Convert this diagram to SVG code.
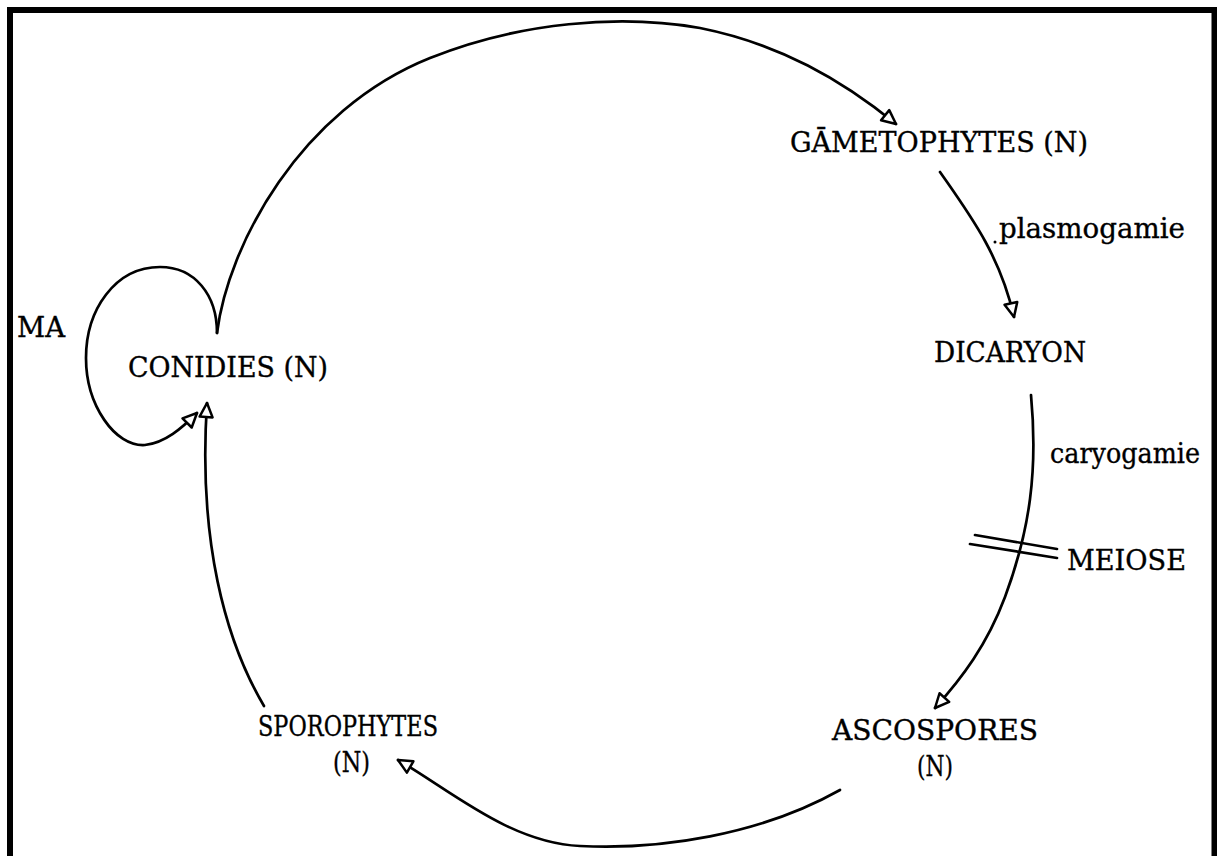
<svg xmlns="http://www.w3.org/2000/svg" width="1217" height="856" viewBox="0 0 1217 856">
  <style>
    .frame { fill: none; stroke: #000; stroke-width: 6; }
    .edge { fill: none; stroke: #000; stroke-width: 2.7; stroke-linecap: round; }
    .lbl { font-family: "DejaVu Serif", "Liberation Serif", serif; font-size: 27px; fill: #000; stroke: #000; stroke-width: 0.35; }
  </style>
  <defs>
    <marker id="tri" markerUnits="userSpaceOnUse" orient="auto" refX="15" refY="8" markerWidth="18" markerHeight="16" overflow="visible">
      <path d="M1,1.5 L15,8 L1,14.5 Z" fill="#fff" stroke="#000" stroke-width="2.5" stroke-linejoin="round"/>
    </marker>
  </defs>

  <rect width="1217" height="856" fill="#fff"/>
  <!-- open frame: left, top and right sides -->
  <path class="frame" d="M10,856 V10 H1214.5 V856"/>

  <g id="connectors">
    <!-- conidies to gametophytes, large arc over the top -->
    <path class="edge" marker-end="url(#tri)" d="M217,333 C228,245 300,110 430,58 C520,22 620,14 700,28 C780,44 842,80 896,124"/>
    <!-- asexual loop (MA) back onto conidies -->
    <path class="edge" marker-end="url(#tri)" d="M217,333 C217,295 195,267 160,267 C115,267 86,310 86,358 C86,405 115,447 145,445 C165,443 182,428 197,413"/>
    <!-- gametophytes to dicaryon -->
    <path class="edge" marker-end="url(#tri)" d="M940,172 C970,215 1000,255 1014,317"/>
    <!-- dicaryon to ascospores -->
    <path class="edge" marker-end="url(#tri)" d="M1031,395 C1038,470 1030,530 1005,597 C987,645 962,678 935,708"/>
    <!-- meiosis tick marks -->
    <path class="edge" d="M975,535 L1057,549 M970,544 L1057,558"/>
    <!-- ascospores to sporophytes, bottom arc -->
    <path class="edge" marker-end="url(#tri)" d="M840,790 C760,835 660,850 580,846 C510,843 450,790 398,760"/>
    <!-- sporophytes to conidies -->
    <path class="edge" marker-end="url(#tri)" d="M264,706 C225,640 198,540 207,403"/>
  </g>

  <g id="gametophytes">
    <text class="lbl" x="790" y="152" textLength="298" lengthAdjust="spacingAndGlyphs">GĀMETOPHYTES (N)</text>
  </g>
  <g id="plasmogamie">
    <circle cx="995" cy="242" r="1.5" fill="#000"/>
    <text class="lbl" x="999" y="238" textLength="186" lengthAdjust="spacingAndGlyphs">plasmogamie</text>
  </g>
  <g id="dicaryon">
    <text class="lbl" x="934" y="362" textLength="152" lengthAdjust="spacingAndGlyphs">DICARYON</text>
  </g>
  <g id="caryogamie">
    <text class="lbl" x="1050" y="463" textLength="150" lengthAdjust="spacingAndGlyphs">caryogamie</text>
  </g>
  <g id="meiose">
    <text class="lbl" x="1067" y="570" textLength="119" lengthAdjust="spacingAndGlyphs">MEIOSE</text>
  </g>
  <g id="ascospores">
    <text class="lbl" x="832" y="740" textLength="206" lengthAdjust="spacingAndGlyphs">ASCOSPORES</text>
    <text class="lbl" x="917" y="776" textLength="36" lengthAdjust="spacingAndGlyphs">(N)</text>
  </g>
  <g id="sporophytes">
    <text class="lbl" x="258" y="736" textLength="180" lengthAdjust="spacingAndGlyphs">SPOROPHYTES</text>
    <text class="lbl" x="333" y="772" textLength="37" lengthAdjust="spacingAndGlyphs">(N)</text>
  </g>
  <g id="conidies">
    <text class="lbl" x="128" y="377" textLength="200" lengthAdjust="spacingAndGlyphs">CONIDIES (N)</text>
  </g>
  <g id="ma">
    <text class="lbl" x="17" y="337" textLength="48" lengthAdjust="spacingAndGlyphs">MA</text>
  </g>
</svg>
